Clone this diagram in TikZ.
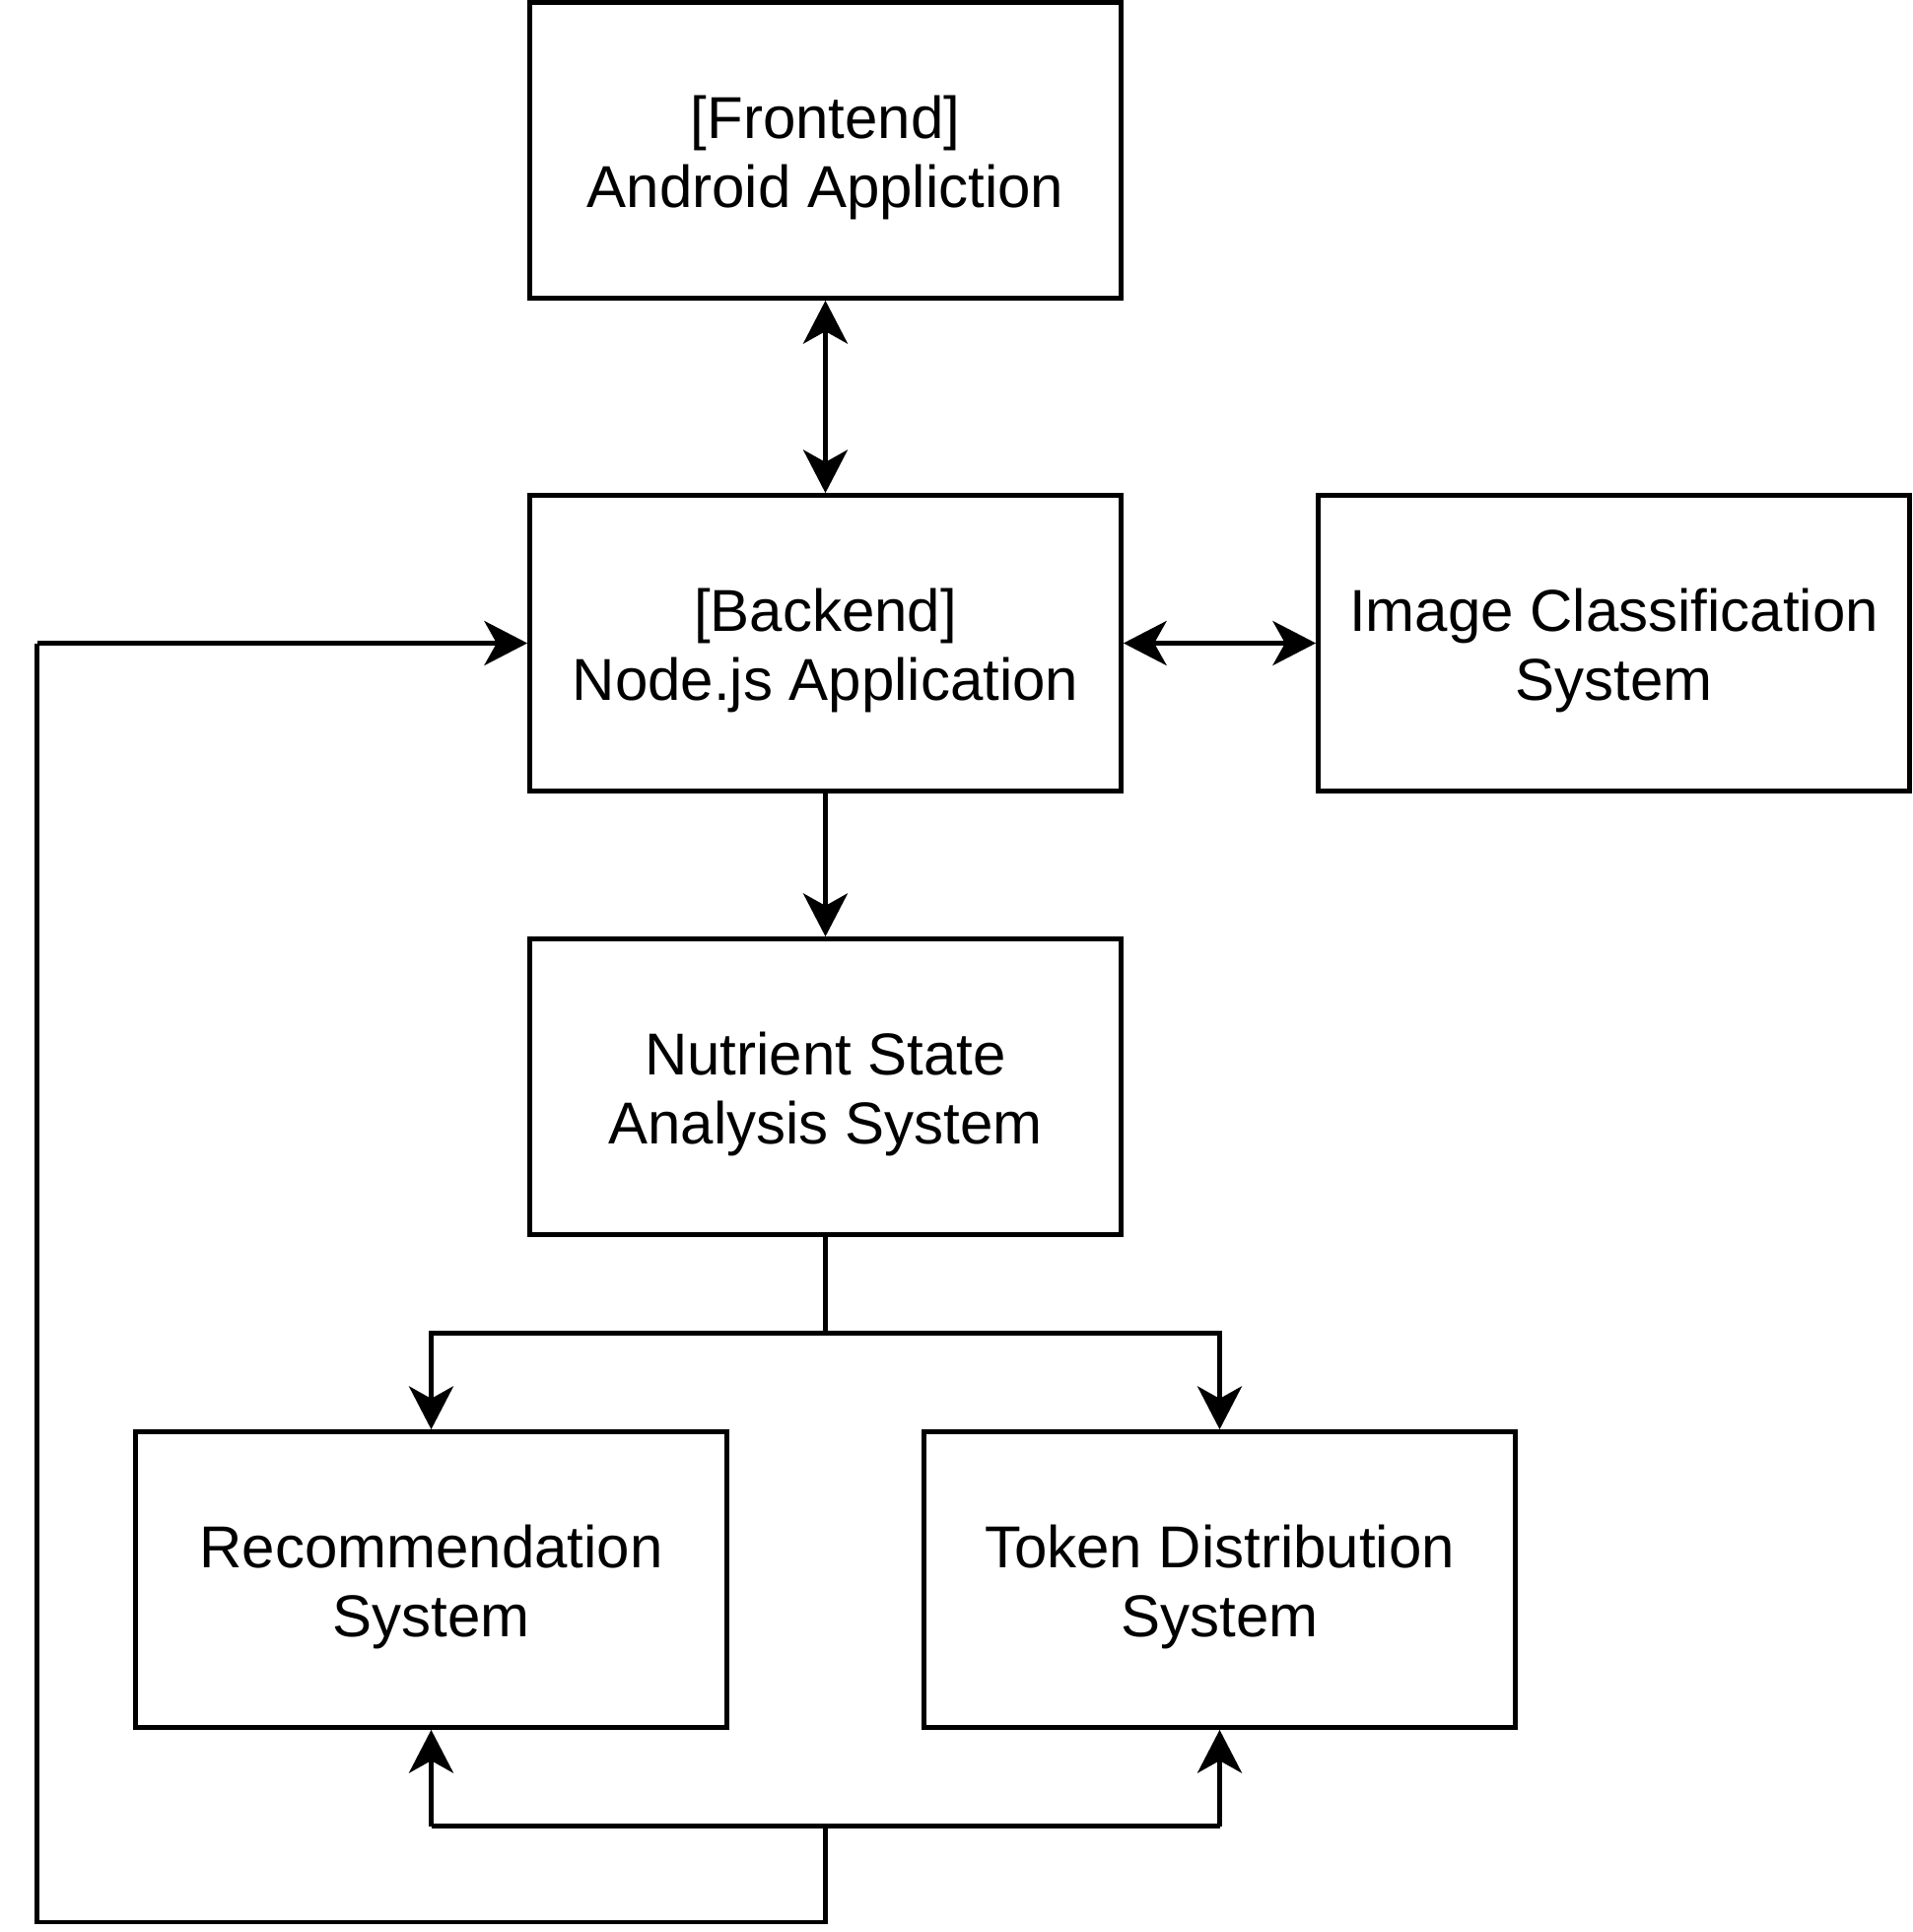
\documentclass[tikz,border=0pt]{standalone}
\usepackage{fontspec}
\setmainfont{Liberation Sans}
\usetikzlibrary{arrows.meta}
\begin{document}
\begin{tikzpicture}[x=0.5pt,y=-0.5pt,
  box/.style={draw,line width=1.9pt,minimum width=240pt,minimum height=120pt,inner sep=0pt},
  lbl/.style={align=center,font=\fontsize{24}{28}\selectfont,yshift=-3pt},
  conn/.style={line width=1.9pt},
  arr/.style={conn,-{Stealth[length=17.5pt,width=18pt,inset=5pt]}},
  barr/.style={conn,{Stealth[length=17.5pt,width=18pt,inset=5pt]}-{Stealth[length=17.5pt,width=18pt,inset=5pt]}}]
\useasboundingbox (0,0) rectangle (1552,1568);
\node[box,label={[lbl]center:[Frontend]\\Android Appliction}] (fe) at (670,122) {};
\node[box,label={[lbl]center:[Backend]\\Node.js Application}] (be) at (670,522) {};
\node[box,label={[lbl]center:Image Classification\\System}] (ic) at (1310,522) {};
\node[box,label={[lbl]center:Nutrient State\\Analysis System}] (ns) at (670,882) {};
\node[box,label={[lbl]center:Recommendation\\System}] (rs) at (350,1282) {};
\node[box,label={[lbl]center:Token Distribution\\System}] (td) at (990,1282) {};
\coordinate (j1) at (670,1082);
\coordinate (j1l) at (350,1082);
\coordinate (j1r) at (990,1082);
\coordinate (j2) at (670,1482);
\coordinate (j2l) at (350,1482);
\coordinate (j2r) at (990,1482);
\coordinate (b1) at (670,1560);
\coordinate (b2) at (30,1560);
\coordinate (b3) at (30,522);
\draw[barr] (fe) -- (be);
\draw[barr] (be) -- (ic);
\draw[arr] (be) -- (ns);
\draw[conn] (ns.south) -- (j1);
\draw[arr] (j1) -- (j1l) -- (rs.north);
\draw[arr] (j1) -- (j1r) -- (td.north);
\draw[arr] (j2l) -- (rs.south);
\draw[arr] (j2r) -- (td.south);
\draw[conn] (j2l) -- (j2r);
\draw[conn] (j2) -- (b1) -- (b2) -- (b3);
\draw[arr] (b3) -- (be.west);
\end{tikzpicture}
\end{document}
